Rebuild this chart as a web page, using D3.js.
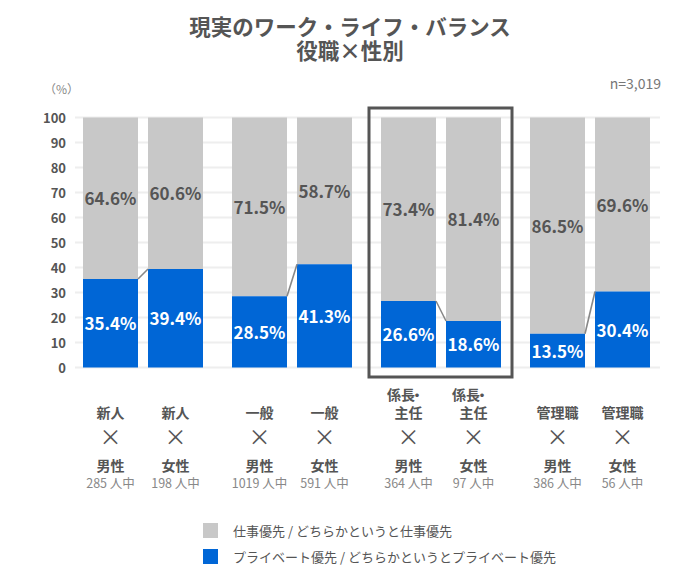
<!DOCTYPE html>
<html><head><meta charset="utf-8">
<script src="https://cdn.jsdelivr.net/npm/d3@7"></script>
<style>body{margin:0;background:#fff;} text{font-family:"Noto Sans CJK JP","Noto Sans",sans-serif;}</style>
</head><body><svg id="c" width="700" height="565"></svg>
<script>
const roles = ["新人","新人","一般","一般","係長・主任","係長・主任","管理職","管理職"];
const genders = ["男性","女性","男性","女性","男性","女性","男性","女性"];
const counts = [285,198,1019,591,364,97,386,56];
const privateVals = [35.4,39.4,28.5,41.3,26.6,18.6,13.5,30.4];
const workVals = [64.6,60.6,71.5,58.7,73.4,81.4,86.5,69.6];
const yTicks = [0,10,20,30,40,50,60,70,80,90,100];
const groups = ["新人","一般","係長・主任","管理職"];
const highlightGroup = "係長・主任";
const legendLabels = ["仕事優先 / どちらかというと仕事優先","プライベート優先 / どちらかというとプライベート優先"];
const colors = {work:"#c8c8c8", priv:"#0066d6"};

const svg = d3.select("#c");
const y = d3.scaleLinear().domain([0,100]).range([367.5,117.5]);
const gx = d3.scaleBand().domain(groups).range([83,650]).paddingInner(29/149).paddingOuter(0);
const sx = d3.scaleBand().domain([0,1]).range([0,gx.bandwidth()]).paddingInner(10/65);
const barX = i => gx(groups[Math.floor(i/2)]) + sx(i%2);
const bw = sx.bandwidth();

// title
svg.append("text").attr("x",350).attr("y",35).attr("text-anchor","middle").attr("font-size",21.5).attr("font-weight","bold").attr("fill","#555").text("現実のワーク・ライフ・バランス");
svg.append("text").attr("x",350).attr("y",59).attr("text-anchor","middle").attr("font-size",21.5).attr("font-weight","bold").attr("fill","#555").text("役職×性別");
svg.append("text").attr("x",661).attr("y",89).attr("text-anchor","end").attr("font-size",14).attr("fill","#777").text("n=3,019");
svg.append("text").attr("x",44).attr("y",94).attr("font-size",12).attr("fill","#888").text("（%）");

// grid
svg.append("g").selectAll("line").data(yTicks).join("line")
  .attr("x1",75).attr("x2",660).attr("y1",d=>y(d)).attr("y2",d=>y(d))
  .attr("stroke","#eeeeee").attr("stroke-width",2);
svg.append("g").selectAll("text").data(yTicks).join("text")
  .attr("x",66).attr("y",d=>y(d)+5).attr("text-anchor","end").attr("font-size",13).attr("font-weight","bold").attr("fill","#555").text(d=>d);

const idx = d3.range(privateVals.length);
// bars
svg.append("g").selectAll("rect").data(idx).join("rect")
  .attr("x",barX).attr("width",bw).attr("y",i=>y(100)).attr("height",i=>y(privateVals[i])-y(100)).attr("fill",colors.work);
svg.append("g").selectAll("rect").data(idx).join("rect")
  .attr("x",barX).attr("width",bw).attr("y",i=>y(privateVals[i])).attr("height",i=>y(0)-y(privateVals[i])).attr("fill",colors.priv);

// connectors
svg.append("g").selectAll("line").data(idx.filter(i=>i%2===0)).join("line")
  .attr("x1",i=>barX(i)+bw).attr("y1",i=>y(privateVals[i]))
  .attr("x2",i=>barX(i+1)).attr("y2",i=>y(privateVals[i+1]))
  .attr("stroke","#888").attr("stroke-width",1.6);

// value labels
svg.append("g").selectAll("text").data(idx).join("text")
  .attr("x",i=>barX(i)+bw/2).attr("y",i=>y(privateVals[i]+workVals[i]/2)+7)
  .attr("text-anchor","middle").attr("font-size",17).attr("font-weight","bold").attr("fill","#555")
  .text(i=>workVals[i].toFixed(1)+"%");
svg.append("g").selectAll("text").data(idx).join("text")
  .attr("x",i=>barX(i)+bw/2).attr("y",i=>y(privateVals[i]/2)+7)
  .attr("text-anchor","middle").attr("font-size",17).attr("font-weight","bold").attr("fill","#fff")
  .text(i=>privateVals[i].toFixed(1)+"%");

// highlight box
const hx = gx(highlightGroup);
svg.append("rect").attr("x",hx-12).attr("y",y(100)-9.5).attr("width",gx.bandwidth()+23).attr("height",y(0)-y(100)+19)
  .attr("fill","none").attr("stroke","#555").attr("stroke-width",3);

// category labels
const cat = svg.append("g").selectAll("g").data(idx).join("g").attr("transform",i=>`translate(${barX(i)+bw/2},0)`);
cat.each(function(i){
  const g = d3.select(this);
  const r = roles[i];
  const lab = (yy,t)=>g.append("text").attr("y",yy).attr("text-anchor","middle").attr("font-size",14).attr("font-weight","bold").attr("fill","#555").text(t);
  if (r.includes("・")) {
    const [a,b] = r.split("・");
    const t = g.append("text").attr("y",400).attr("x",-3).attr("text-anchor","middle").attr("font-size",14).attr("font-weight","bold").attr("fill","#555").text(a);
    t.append("tspan").attr("dx",-5).text("・");
    lab(418,b);
  } else {
    lab(418,r);
  }
  g.append("text").attr("y",445).attr("text-anchor","middle").attr("font-size",22).attr("fill","#555").text("×");
  lab(471,genders[i]);
  g.append("text").attr("y",488).attr("text-anchor","middle").attr("font-size",12.5).attr("fill","#888").text(counts[i]+" 人中");
});

// legend
const lg = svg.append("g").selectAll("g").data(legendLabels).join("g").attr("transform",(d,i)=>`translate(203,${523+i*26})`);
lg.append("rect").attr("width",15).attr("height",15).attr("fill",(d,i)=>i?colors.priv:colors.work);
lg.append("text").attr("x",30).attr("y",12.5).attr("font-size",13).attr("fill","#555").text(d=>d);
</script></body></html>
